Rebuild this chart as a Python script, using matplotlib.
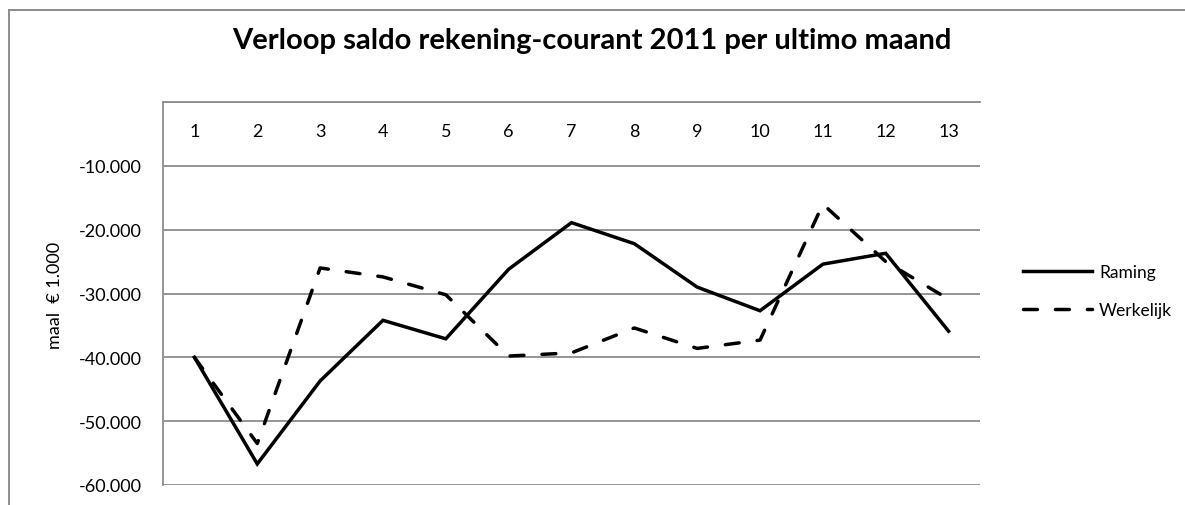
import matplotlib
matplotlib.use("Agg")
import matplotlib.pyplot as plt
from matplotlib.patches import Rectangle
from matplotlib.ticker import FuncFormatter

plt.rcParams['font.family'] = ['Lato', 'DejaVu Sans']

title = "Verloop saldo rekening-courant 2011 per ultimo maand"
ylabel = "maal  € 1.000"
categories = [str(i) for i in range(1, 14)]
raming = [-40000, -56700, -43700, -34200, -37100, -26200, -18900, -22200,
          -29000, -32700, -25400, -23700, -35900]
werkelijk = [-40000, -53500, -26000, -27400, -30200, -39800, -39300, -35400,
             -38600, -37300, -16000, -25000, -30900]
yticks = [-60000, -50000, -40000, -30000, -20000, -10000, 0]

W, H = 1185, 506
fig = plt.figure(figsize=(W / 100, H / 100), dpi=100)
ax = fig.add_axes([163 / W, 1 - 486 / H, (980 - 163) / W, (486 - 103) / H])

x = list(range(len(categories)))
lw = 2.5
ax.plot(x, raming, color='black', lw=lw, solid_joinstyle='miter', label='Raming')
ax.plot(x, werkelijk, color='black', lw=lw, dashes=(4, 5.2),
        dash_capstyle='round', label='Werkelijk')

fs = 13
ax.set_xlim(-0.5, len(categories) - 0.5)
ax.set_ylim(-60000, 0)
ax.set_yticks(yticks)
ax.yaxis.set_major_formatter(FuncFormatter(
    lambda v, p: "" if v == 0 else f"{int(v):,}".replace(",", ".")))
ax.tick_params(axis='y', length=0, pad=15, labelsize=fs)
ax.set_xticks([])
ax.grid(axis='y', color='#8c8c8c', lw=1.3)
ax.set_axisbelow(True)
for s in ['right', 'bottom']:
    ax.spines[s].set_visible(False)
for s in ['left', 'top']:
    ax.spines[s].set_color('#8c8c8c')
    ax.spines[s].set_linewidth(1.3)

for xi, c in zip(x, categories):
    ax.text(xi, -4500, c, ha='center', va='center', fontsize=fs)

fig.text(55 / W, 1 - 295 / H, ylabel, rotation=90, ha='center', va='center',
         fontsize=fs)
fig.text(592 / W, 1 - 41 / H, title, ha='center', va='center',
         fontsize=21, fontweight='bold')

ax.legend(loc='center left', bbox_to_anchor=(1007 / W, 1 - 292 / H),
          bbox_transform=fig.transFigure, frameon=False, fontsize=12.5,
          handlelength=4.0, handletextpad=0.4, labelspacing=1.25)

fig.add_artist(Rectangle((9 / W, -0.2), 1.2, 1.2 + (1 - 11 / H) - 1,
                         transform=fig.transFigure, fill=False,
                         edgecolor='#8c8c8c', lw=1.4, clip_on=False))

fig.savefig('out.png', dpi=100)
